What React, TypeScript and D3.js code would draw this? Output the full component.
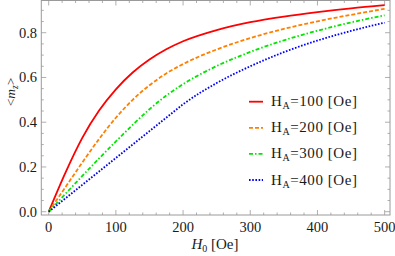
import React from 'react'
import * as d3 from 'd3'

// field values H0 [Oe] and <m_z>, one array per H_A
const fieldH = [0, 25, 50, 75, 100, 125, 150, 175, 200, 250, 300, 350, 400, 450, 500]
const mzHA100 = [0, 0.175, 0.33, 0.452, 0.547, 0.622, 0.68, 0.726, 0.762, 0.812, 0.847, 0.872, 0.892, 0.909, 0.923]
const mzHA200 = [0, 0.11, 0.22, 0.325, 0.42, 0.5, 0.565, 0.618, 0.66, 0.725, 0.776, 0.817, 0.851, 0.88, 0.907]
const mzHA300 = [0, 0.08, 0.16, 0.238, 0.314, 0.388, 0.458, 0.519, 0.57, 0.651, 0.714, 0.766, 0.809, 0.846, 0.878]
const mzHA400 = [0, 0.06, 0.12, 0.18, 0.24, 0.3, 0.36, 0.42, 0.48, 0.575, 0.65, 0.713, 0.765, 0.808, 0.845]

const seriesNames = ['100', '200', '300', '400']
const seriesColors = ['#ff0000', '#ff8000', '#00e600', '#0000ff']
const seriesDash = ['none', '4,2', '4,2,1.5,2', '1.6,1.6']

const xTicks = [0, 100, 200, 300, 400, 500]
const yTicks = [0, 0.2, 0.4, 0.6, 0.8]

const W = 395, H = 256
const left = 41.3, right = 390, top = 0.5, bottom = 215
const font = 'Liberation Serif'
const frameCol = '#9a9a9a'
const textCol = '#1a1a1a'

export default function App() {
  const x = d3.scaleLinear().domain([-11, 508]).range([left, right])
  const y = d3.scaleLinear().domain([-0.0147, 0.944]).range([bottom, top])
  const line = d3.line<[number, number]>().x(d => x(d[0])).y(d => y(d[1])).curve(d3.curveMonotoneX)
  const all = [mzHA100, mzHA200, mzHA300, mzHA400]

  const xMinor = d3.range(0, 501, 20)
  const yMinor = d3.range(0, 0.95, 0.05)

  return (
    <svg width={W} height={H} style={{ position: 'absolute', left: 0, top: 0, background: '#fff' }}>
      {/* frame */}
      <rect x={left} y={top} width={right - left} height={bottom - top} fill="none" stroke={frameCol} strokeWidth={1} />
      {xMinor.map(v => {
        const len = v % 100 === 0 ? 5 : 2.5
        return <g key={'xm' + v} stroke={frameCol} strokeWidth={0.8}>
          <line x1={x(v)} x2={x(v)} y1={bottom} y2={bottom - len} />
          <line x1={x(v)} x2={x(v)} y1={top} y2={top + len} />
        </g>
      })}
      {yMinor.map((v, i) => {
        const len = i % 4 === 0 ? 5 : 2.5
        return <g key={'ym' + i} stroke={frameCol} strokeWidth={0.8}>
          <line x1={left} x2={left + len} y1={y(v)} y2={y(v)} />
          <line x1={right} x2={right - len} y1={y(v)} y2={y(v)} />
        </g>
      })}
      {xTicks.map(v => (
        <text key={'xt' + v} x={x(v)} y={232} fontSize={14.5} textAnchor="middle" fill={textCol} fontFamily={font}>{v}</text>
      ))}
      {yTicks.map(v => (
        <text key={'yt' + v} x={37} y={y(v) + 5} fontSize={14.5} textAnchor="end" fill={textCol} fontFamily={font}>{d3.format('.1f')(v)}</text>
      ))}
      {/* axis labels */}
      <text x={215} y={249} fontSize={15} textAnchor="middle" fill={textCol} fontFamily={font}>
        <tspan fontStyle="italic">H</tspan><tspan fontSize={10} dy={3}>0</tspan><tspan dy={-3}> [Oe]</tspan>
      </text>
      <text transform="translate(15,92) rotate(-90)" fontSize={13.5} textAnchor="middle" fill={textCol} fontFamily={font}>
        &lt;<tspan fontStyle="italic">m</tspan><tspan fontSize={9.5} fontStyle="italic" dy={3}>z</tspan><tspan dy={-3}>&gt;</tspan>
      </text>
      {/* curves */}
      <clipPath id="clip"><rect x={left} y={top} width={right - left} height={bottom - top} /></clipPath>
      <g clipPath="url(#clip)">
        {all.map((s, i) => (
          <path key={'c' + i} d={line(fieldH.map((h, j) => [h, s[j]] as [number, number])) || ''}
            fill="none" stroke={seriesColors[i]} strokeWidth={1.8} strokeDasharray={seriesDash[i]} />
        ))}
      </g>
      {/* legend */}
      {seriesNames.map((n, i) => {
        const ly = 101.7 + i * 26.1
        return <g key={'lg' + i}>
          <line x1={249} x2={263} y1={ly} y2={ly} stroke={seriesColors[i]} strokeWidth={1.8} strokeDasharray={seriesDash[i]} />
          <text x={271} y={ly + 4.5} fontSize={15} fill={textCol} fontFamily={font} textLength={86} lengthAdjust="spacing">
            H<tspan fontSize={10} dy={3}>A</tspan><tspan dy={-3}>={n} [Oe]</tspan>
          </text>
        </g>
      })}
    </svg>
  )
}
